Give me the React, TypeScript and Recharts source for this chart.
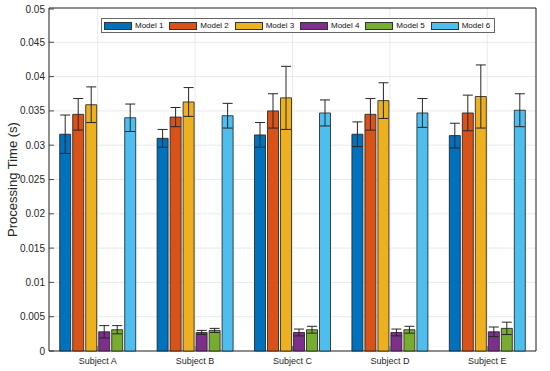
import React from "react";
import { Bar, BarChart, CartesianGrid, ErrorBar, Legend, ReferenceArea, XAxis, YAxis } from "recharts";

const subjects = ["Subject A", "Subject B", "Subject C", "Subject D", "Subject E"];
const modelNames = ["Model 1", "Model 2", "Model 3", "Model 4", "Model 5", "Model 6"];
const modelColors = ["#0072BD", "#D95319", "#EDB120", "#7E2F8E", "#77AC30", "#4DBEEE"];

const model1 = [0.0316, 0.031, 0.0315, 0.0316, 0.0314];
const model1Err = [0.0028, 0.0013, 0.0018, 0.0018, 0.0018];
const model2 = [0.0345, 0.0341, 0.035, 0.0345, 0.0347];
const model2Err = [0.0023, 0.0014, 0.0025, 0.0023, 0.0026];
const model3 = [0.0359, 0.0363, 0.0369, 0.0365, 0.0371];
const model3Err = [0.0026, 0.0021, 0.0046, 0.0026, 0.0046];
const model4 = [0.0028, 0.0027, 0.0027, 0.0027, 0.0028];
const model4Err = [0.0009, 0.0003, 0.0005, 0.0005, 0.0007];
const model5 = [0.0031, 0.003, 0.0031, 0.0031, 0.0033];
const model5Err = [0.0006, 0.0003, 0.0005, 0.0005, 0.0009];
const model6 = [0.034, 0.0343, 0.0347, 0.0347, 0.0351];
const model6Err = [0.002, 0.0018, 0.0019, 0.0021, 0.0024];

const yTicks = [0, 0.005, 0.01, 0.015, 0.02, 0.025, 0.03, 0.035, 0.04, 0.045, 0.05];

const seriesValues = [model1, model2, model3, model4, model5, model6];
const seriesErrors = [model1Err, model2Err, model3Err, model4Err, model5Err, model6Err];

const data = subjects.map((subject, i) => {
  const row: Record<string, string | number> = { subject };
  seriesValues.forEach((vals, k) => {
    row[`m${k + 1}`] = vals[i];
    row[`e${k + 1}`] = seriesErrors[k][i];
  });
  return row;
});

const FONT = '"Liberation Sans", Arial, Helvetica, sans-serif';
const INK = "#262626";

function LeftTick({ x, y, payload }: any) {
  return (
    <g>
      <line x1={x + 4} x2={x + 9} y1={y} y2={y} stroke={INK} strokeWidth={0.8} />
      <text x={x} y={y} dy={3.5} textAnchor="end" fontSize={10} fill={INK} fontFamily={FONT}>
        {payload.value}
      </text>
    </g>
  );
}

function BottomTick({ x, y, payload }: any) {
  return (
    <g>
      <line x1={x} x2={x} y1={y - 4} y2={y - 9} stroke="#555" strokeWidth={0.8} />
      <text x={x} y={y} dy={9} textAnchor="middle" fontSize={9} fill={INK} fontFamily={FONT}>
        {payload.value}
      </text>
    </g>
  );
}

function LegendBox({ payload }: any) {
  return (
    <div
      style={{
        display: "flex",
        alignItems: "center",
        height: 15,
        boxSizing: "border-box",
        border: "1px solid #666",
        background: "#fff",
        fontFamily: FONT,
        fontSize: 8,
        color: "#111",
      }}
    >
      {(payload || []).map((item: any) => (
        <div key={item.value} style={{ display: "flex", alignItems: "center", width: 65.5 }}>
          <span
            style={{
              display: "inline-block",
              width: 28,
              height: 8,
              marginLeft: 2,
              boxSizing: "border-box",
              border: "1px solid #333",
              background: item.color,
            }}
          />
          <span style={{ marginLeft: 3, whiteSpace: "nowrap" }}>{item.value}</span>
        </div>
      ))}
    </div>
  );
}

export default function App() {
  return (
    <div style={{ position: "absolute", left: 0, top: 0, width: 550, height: 371, background: "#fff" }}>
      <BarChart
        width={550}
        height={371}
        data={data}
        margin={{ top: 8, right: 14, bottom: 0, left: 0 }}
        barCategoryGap="11%"
        barGap={2}
      >
        <CartesianGrid stroke="#e4e4e4" strokeWidth={0.8} />
        <XAxis
          dataKey="subject"
          height={20}
          axisLine={false}
          tickLine={false}
          tickSize={0}
          tickMargin={4}
          tick={<BottomTick />}
        />
        <XAxis
          xAxisId="top"
          dataKey="subject"
          orientation="top"
          mirror
          height={0}
          axisLine={false}
          tickSize={4}
          tickFormatter={() => ""}
          tickLine={{ stroke: "#555", strokeWidth: 0.8 }}
        />
        <YAxis
          domain={[0, 0.05]}
          ticks={yTicks}
          width={49}
          axisLine={false}
          tickLine={false}
          tickSize={0}
          tickMargin={4}
          tick={<LeftTick />}
          label={{
            value: "Processing Time (s)",
            angle: -90,
            position: "insideLeft",
            offset: 12,
            textAnchor: "middle",
            fontSize: 13,
            fill: INK,
            fontFamily: FONT,
          }}
        />
        <YAxis
          yAxisId="right"
          orientation="right"
          domain={[0, 0.05]}
          ticks={yTicks}
          width={0}
          mirror
          axisLine={false}
          tickSize={4}
          tickFormatter={() => ""}
          tickLine={{ stroke: INK, strokeWidth: 0.8 }}
        />
        <Legend
          layout="horizontal"
          verticalAlign="middle"
          align="center"
          wrapperStyle={{ top: 18, left: 101, width: 394, height: 15 }}
          content={<LegendBox />}
        />
        {modelNames.map((name, k) => (
          <Bar
            key={name}
            dataKey={`m${k + 1}`}
            name={name}
            fill={modelColors[k]}
            stroke="#1c1c1c"
            strokeWidth={0.8}
            isAnimationActive={false}
          >
            <ErrorBar dataKey={`e${k + 1}`} width={5} stroke={INK} strokeWidth={1} isAnimationActive={false} />
          </Bar>
        ))}
        <ReferenceArea y1={0} y2={0.05} fill="none" fillOpacity={0} stroke={INK} strokeWidth={1} ifOverflow="visible" />
      </BarChart>
    </div>
  );
}
